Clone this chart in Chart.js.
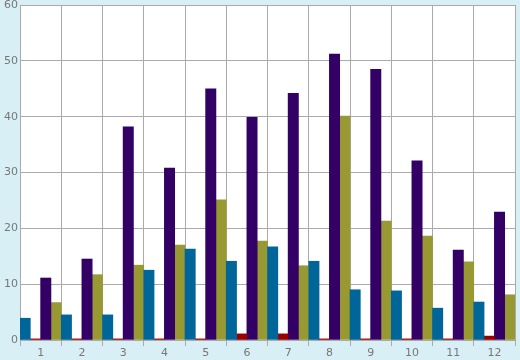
<!DOCTYPE html>
<html lang="en">
<head>
  <meta charset="UTF-8" />
  <title>Monthly bars</title>
  <script src="https://cdn.jsdelivr.net/npm/chart.js"></script>
  <style>
    body {
      margin: 0;
      padding: 0;
      background: #d9eff6;
    }
    .chart-box {
      width: 520px;
      height: 360px;
    }
  </style>
</head>
<body>
  <div class="chart-box">
    <canvas id="barChart" width="520" height="360"></canvas>
  </div>

  <script>
    const months = ['1', '2', '3', '4', '5', '6', '7', '8', '9', '10', '11', '12'];
    const tealValues   = [3.9, 4.5, 4.5, 12.5, 16.3, 14.1, 16.7, 14.1, 9.0, 8.8, 5.7, 6.8];
    const redValues    = [0.2, 0.2, 0.2, 0.2, 0.2, 1.1, 1.1, 0.2, 0.2, 0.2, 0.2, 0.7];
    const purpleValues = [11.1, 14.5, 38.2, 30.8, 45.0, 39.9, 44.2, 51.2, 48.5, 32.1, 16.1, 22.9];
    const oliveValues  = [6.7, 11.7, 13.4, 17.0, 25.1, 17.7, 13.3, 40.1, 21.3, 18.6, 14.0, 8.1];
    const yTicks = [0, 10, 20, 30, 40, 50, 60];

    // paint the pale blue page and the white plot area
    const backdrop = {
      id: 'backdrop',
      beforeDraw(chart) {
        const { ctx, chartArea: a } = chart;
        ctx.save();
        ctx.fillStyle = '#d9eff6';
        ctx.fillRect(0, 0, chart.width, chart.height);
        ctx.fillStyle = '#ffffff';
        ctx.fillRect(a.left, a.top, a.right - a.left, a.bottom - a.top);
        ctx.restore();
      }
    };

    const gridColor = '#aaaaaa';
    const tickFont = { family: 'DejaVu Sans', size: 11 };

    new Chart(document.getElementById('barChart'), {
      type: 'bar',
      data: {
        labels: months,
        datasets: [
          { data: tealValues, backgroundColor: '#006699' },
          { data: redValues, backgroundColor: '#990000' },
          { data: purpleValues, backgroundColor: '#330066' },
          { data: oliveValues, backgroundColor: '#999933' }
        ]
      },
      options: {
        responsive: false,
        animation: false,
        layout: { padding: { top: 5, right: 5, left: 0, bottom: 0 } },
        datasets: {
          bar: { categoryPercentage: 1, barPercentage: 1, borderWidth: 0 }
        },
        plugins: {
          legend: { display: false },
          tooltip: { enabled: false }
        },
        scales: {
          x: {
            grid: { color: gridColor, tickLength: 6, offset: true },
            border: { color: gridColor },
            ticks: { color: '#777777', font: tickFont, padding: 1, maxRotation: 0 },
            afterFit(scale) { scale.height = 20; }
          },
          y: {
            min: 0,
            max: 60,
            afterBuildTicks(scale) { scale.ticks = yTicks.map(v => ({ value: v })); },
            grid: { color: gridColor, tickLength: 0 },
            border: { color: gridColor },
            ticks: { color: '#777777', font: tickFont, padding: 2 },
            afterFit(scale) {
              scale.width = 20;
              scale.paddingTop = 0;
              scale.paddingBottom = 0;
            }
          }
        }
      },
      plugins: [backdrop]
    });
  </script>
</body>
</html>
